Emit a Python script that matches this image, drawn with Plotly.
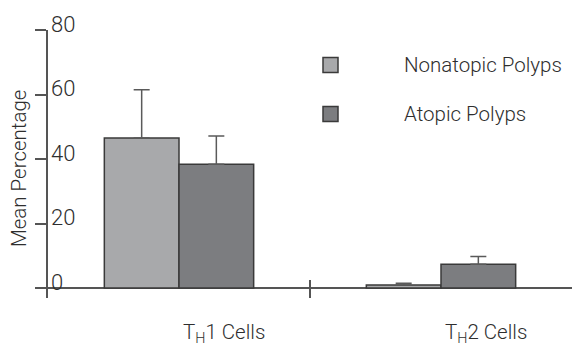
import plotly.graph_objects as go

categories = ["T<sub>H</sub>1 Cells", "T<sub>H</sub>2 Cells"]
series_names = ["Nonatopic Polyps", "Atopic Polyps"]
nonatopic_mean = [46.5, 0.9]
nonatopic_err = [15.0, 0.6]
atopic_mean = [38.4, 7.4]
atopic_err = [8.7, 2.4]
y_ticks = [0, 20, 40, 60, 80]

colors = ["#a8a9ab", "#7c7d80"]
FONT = "Roboto, Liberation Sans, sans-serif"
TXT = "#2e2e2e"
W, H = 573, 349
ML, MR, MT, MB = 48, 1, 30, 51

xpos = [i + 0.5 for i in range(len(categories))]

fig = go.Figure()
for name, vals, errs, col in zip(series_names, [nonatopic_mean, atopic_mean],
                                 [nonatopic_err, atopic_err], colors):
    fig.add_trace(go.Bar(
        x=xpos, y=vals, name=name,
        marker=dict(color=col, line=dict(color="#3a3a3a", width=1.5)),
        error_y=dict(type="data", array=errs, symmetric=False, arrayminus=[0]*len(errs),
                     color="#5a5a5a", thickness=1.5, width=8),
        showlegend=False, hoverinfo="skip",
    ))

def px_x(p):
    return (p - ML) / (W - ML - MR)

def px_y(p):
    return (H - MB - p) / (H - MT - MB)

tfont = dict(family=FONT, size=20.5, color=TXT, weight=300)
shapes = []
annotations = []
# legend
leg_y = [65, 114]
for name, col, py in zip(series_names, colors, leg_y):
    shapes.append(dict(type="rect", xref="paper", yref="paper",
                       x0=px_x(323), x1=px_x(338), y0=px_y(py + 7.5), y1=px_y(py - 7.5),
                       fillcolor=col, line=dict(color="#3a3a3a", width=1.5)))
    annotations.append(dict(text=name, xref="paper", yref="paper", x=px_x(402), y=px_y(py),
                            xanchor="left", yanchor="middle", showarrow=False, font=tfont))
# category labels
for xp, cat in zip(xpos, categories):
    annotations.append(dict(text=cat, xref="x", yref="paper", x=xp, y=0, xshift=45,
                            yshift=-35, xanchor="center", yanchor="middle", showarrow=False,
                            font=tfont))
# y tick labels (drawn to the right of the axis, slightly above each tick)
for t in y_ticks:
    annotations.append(dict(text=str(t), xref="paper", yref="y", x=0, y=t, xshift=1,
                            yshift=6, xanchor="left", yanchor="middle", showarrow=False,
                            font=dict(family=FONT, size=22, color=TXT, weight=300)))
# y title
annotations.append(dict(text="Mean Percentage", xref="paper", yref="paper",
                        x=px_x(19), y=px_y(169), xanchor="center", yanchor="middle",
                        textangle=-90, showarrow=False, font=tfont))
# baseline extension left of the y-axis
shapes.append(dict(type="line", xref="paper", yref="y", x0=px_x(37), x1=0, y0=0, y1=0,
                   line=dict(color="#555", width=1.5)))

fig.update_layout(
    width=W, height=H,
    margin=dict(l=ML, r=MR, t=MT, b=MB, autoexpand=False),
    paper_bgcolor="white", plot_bgcolor="white",
    barmode="group", bargap=0.43, bargroupgap=0,
    font=dict(family=FONT, size=21, color=TXT),
    shapes=shapes, annotations=annotations,
    xaxis=dict(range=[0, 2], tickvals=[1, 2], ticks="inside", ticklen=18, tickwidth=1.5,
               tickcolor="#555", showticklabels=False, showline=False, showgrid=False,
               zeroline=False),
    yaxis=dict(range=[-3.1, 80], tickvals=y_ticks, ticks="outside", ticklen=11,
               tickwidth=1.5, tickcolor="#555", showticklabels=False,
               showline=True, linecolor="#555", linewidth=1.5, showgrid=False,
               zeroline=True, zerolinecolor="#555", zerolinewidth=1.5),
)

fig.write_html("out.html", config={"displayModeBar": False},
               post_script="document.body.style.margin='0';document.body.style.padding='0';")
